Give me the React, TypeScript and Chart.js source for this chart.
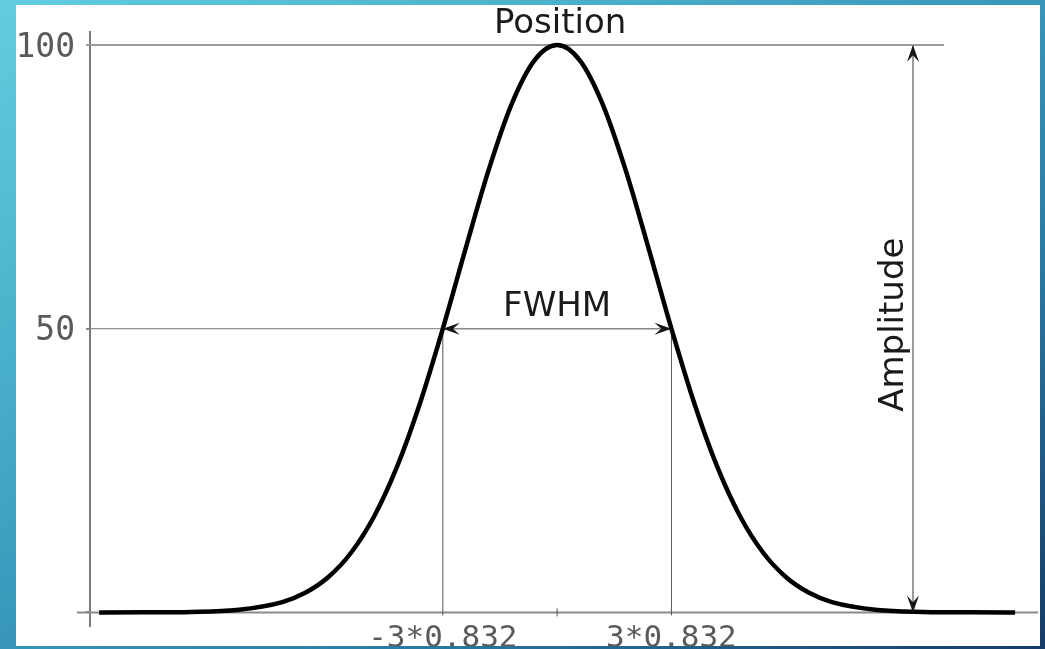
import React, { useEffect, useRef } from "react";
import { Chart, registerables } from "chart.js";

Chart.register(...registerables);

// Gaussian peak (x in axis units, y in percent of amplitude)
const curveX = [-10, -9, -8, -7, -6, -5.5, -5, -4.5, -4, -3.5, -3, -2.5, -2, -1.5, -1, -0.5, 0, 0.5, 1, 1.5, 2, 2.5, 3, 3.5, 4, 4.5, 5, 5.5, 6, 7, 8, 9, 10];
const curveY = [0, 0.01, 0.08, 0.43, 1.82, 3.45, 6.19, 10.51, 16.86, 25.59, 36.74, 49.89, 64.08, 77.86, 89.47, 97.26, 100, 97.26, 89.47, 77.86, 64.08, 49.89, 36.74, 25.59, 16.86, 10.51, 6.19, 3.45, 1.82, 0.43, 0.08, 0.01, 0];

const yTickValues = [0, 50, 100];
const yTickLabels = ["", "50", "100"];
const xTickValues = [-2.496, 0, 2.496];
const xTickLabels = ["-3*0.832", "", "3*0.832"];

const peakValue = 100;
const halfValue = 50;
const halfLeft = -2.496;
const halfRight = 2.496;
const amplitudeX = 7.77;
const topLineEnd = 8.45;
const xMin = -10.2;
const xMax = 10.5;
const yMin = -2.4;
const yMax = 102.3;

const positionLabel = "Position";
const fwhmLabel = "FWHM";
const amplitudeLabel = "Amplitude";

export default function App() {
  const ref = useRef<HTMLCanvasElement>(null);

  useEffect(() => {
    if (!ref.current) return;

    const line = (ctx: CanvasRenderingContext2D, x1: number, y1: number, x2: number, y2: number, color: string, w: number) => {
      ctx.beginPath();
      ctx.strokeStyle = color;
      ctx.lineWidth = w;
      ctx.moveTo(x1, y1);
      ctx.lineTo(x2, y2);
      ctx.stroke();
    };

    const arrowHead = (ctx: CanvasRenderingContext2D, tx: number, ty: number, dx: number, dy: number) => {
      const L = 17, W = 6, N = 0.6;
      const px = -dy, py = dx;
      ctx.beginPath();
      ctx.fillStyle = "#151515";
      ctx.moveTo(tx, ty);
      ctx.lineTo(tx - dx * L + px * W, ty - dy * L + py * W);
      ctx.lineTo(tx - dx * L * N, ty - dy * L * N);
      ctx.lineTo(tx - dx * L - px * W, ty - dy * L - py * W);
      ctx.closePath();
      ctx.fill();
    };

    const guides = {
      id: "guides",
      beforeDatasetsDraw(chart: any) {
        const { ctx, chartArea, scales } = chart;
        const x = scales.x, y = scales.y;
        const y0 = y.getPixelForValue(0);
        const y50 = y.getPixelForValue(halfValue);
        const y100 = y.getPixelForValue(peakValue);
        const xl = x.getPixelForValue(halfLeft);
        const xr = x.getPixelForValue(halfRight);
        const xa = x.getPixelForValue(amplitudeX);
        const xc = x.getPixelForValue(0);
        ctx.save();
        line(ctx, chartArea.left - 13, y0, chartArea.right, y0, "#8a8a8a", 2);
        line(ctx, chartArea.left - 4, y100, x.getPixelForValue(topLineEnd), y100, "#9a9a9a", 2);
        line(ctx, chartArea.left, y50, xl, y50, "#777", 1);
        line(ctx, xl, y50, xl, y0 + 3, "#555", 1);
        line(ctx, xr, y50, xr, y0 + 3, "#555", 1);
        line(ctx, xc, y0 - 4, xc, y0 + 4, "#555", 1);
        line(ctx, xl, y50, xr, y50, "#888", 1.5);
        line(ctx, xa, y100, xa, y0, "#9a9a9a", 2);
        ctx.restore();
      },
      afterDatasetsDraw(chart: any) {
        const { ctx, scales } = chart;
        const x = scales.x, y = scales.y;
        const y0 = y.getPixelForValue(0);
        const y50 = y.getPixelForValue(halfValue);
        const y100 = y.getPixelForValue(peakValue);
        const xl = x.getPixelForValue(halfLeft);
        const xr = x.getPixelForValue(halfRight);
        const xa = x.getPixelForValue(amplitudeX);
        const xc = x.getPixelForValue(0);
        ctx.save();
        arrowHead(ctx, xl, y50, -1, 0);
        arrowHead(ctx, xr, y50, 1, 0);
        arrowHead(ctx, xa, y100, 0, -1);
        arrowHead(ctx, xa, y0, 0, 1);

        ctx.fillStyle = "#1a1a1a";
        ctx.font = "34px 'DejaVu Sans'";
        ctx.textAlign = "center";
        ctx.textBaseline = "alphabetic";
        ctx.fillText(positionLabel, xc + 3, y100 - 12);
        ctx.fillText(fwhmLabel, xc, y50 - 13);
        ctx.save();
        ctx.translate(xa - 10, y.getPixelForValue((peakValue + 0) / 2) - 4);
        ctx.rotate(-Math.PI / 2);
        ctx.fillText(amplitudeLabel, 0, 0);
        ctx.restore();

        ctx.fillStyle = "#5a5a5a";
        ctx.font = "31px 'DejaVu Sans Mono'";
        xTickValues.forEach((v, i) => {
          if (xTickLabels[i]) ctx.fillText(xTickLabels[i], x.getPixelForValue(v), y0 + 35);
        });
        ctx.restore();
      },
    };

    const chart = new Chart(ref.current, {
      type: "line",
      data: {
        datasets: [
          {
            data: curveX.map((v, i) => ({ x: v, y: curveY[i] })),
            borderColor: "#000",
            borderWidth: 4.5,
            pointRadius: 0,
            fill: false,
            cubicInterpolationMode: "monotone",
          },
        ],
      },
      options: {
        animation: false,
        responsive: false,
        devicePixelRatio: 1,
        layout: { padding: { left: 16, top: 32, right: 7, bottom: 23 } },
        plugins: { legend: { display: false }, tooltip: { enabled: false } },
        scales: {
          x: { type: "linear", min: xMin, max: xMax, display: false },
          y: {
            type: "linear",
            min: yMin,
            max: yMax,
            afterBuildTicks: (scale: any) => {
              scale.ticks = yTickValues.map((v) => ({ value: v }));
            },
            afterFit: (scale: any) => {
              scale.width = 74;
              scale.paddingTop = 0;
              scale.paddingBottom = 0;
            },
            ticks: {
              callback: (v: any) => {
                const i = yTickValues.indexOf(Number(v));
                return i >= 0 ? yTickLabels[i] : "";
              },
              font: { family: "'DejaVu Sans Mono'", size: 33 },
              color: "#5a5a5a",
              padding: 11,
              labelOffset: 3,
            },
            grid: { drawOnChartArea: false, drawTicks: true, tickLength: 4, color: "#8a8a8a", lineWidth: 2 },
            border: { display: true, color: "#7a7a7a", width: 2 },
          },
        },
      },
      plugins: [guides],
    } as any);

    return () => chart.destroy();
  }, []);

  return (
    <div
      style={{
        position: "fixed",
        left: 0,
        top: 0,
        width: 1045,
        height: 649,
        background: "linear-gradient(to bottom right, #63cde0 0%, #3b9dbd 45%, #2a7aa2 70%, #163b68 100%)",
      }}
    >
      <div
        style={{
          position: "absolute",
          left: 16,
          top: 5,
          width: 1024,
          height: 641,
          background: "#fff",
          overflow: "hidden",
        }}
      >
        <canvas ref={ref} width={1045} height={649} style={{ position: "absolute", left: -16, top: -5, width: 1045, height: 649 }} />
      </div>
    </div>
  );
}
